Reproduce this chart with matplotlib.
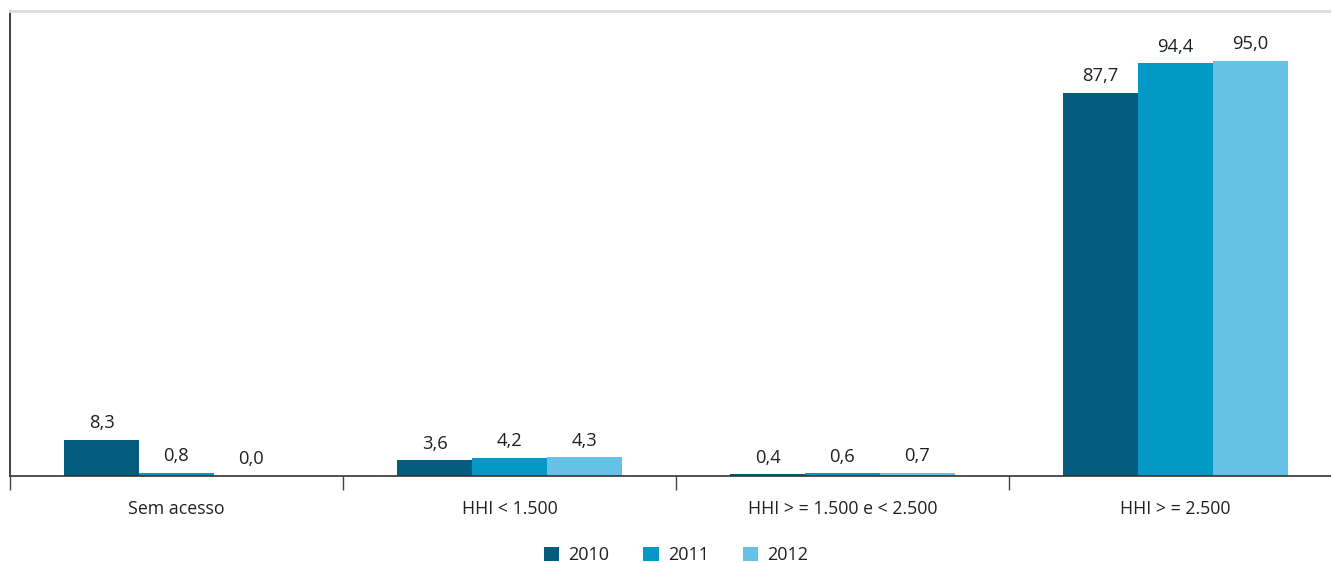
import matplotlib
matplotlib.use("Agg")
import matplotlib.pyplot as plt
import numpy as np
from matplotlib.patches import Patch

categories = ["Sem acesso", "HHI < 1.500", "HHI > = 1.500 e < 2.500", "HHI > = 2.500"]
years = ["2010", "2011", "2012"]
values_2010 = [8.3, 3.6, 0.4, 87.7]
values_2011 = [0.8, 4.2, 0.6, 94.4]
values_2012 = [0.0, 4.3, 0.7, 95.0]

colors = ["#035b7e", "#0398c5", "#66c1e6"]
text_color = "#231f20"

plt.rcParams["font.family"] = ["Open Sans", "DejaVu Sans"]

fig = plt.figure(figsize=(13.31, 5.63), dpi=100)
ax = fig.add_axes([10 / 1331, 87 / 563, 1332 / 1331, 465 / 563])

x = np.arange(len(categories))
width = 0.225
series = [values_2010, values_2011, values_2012]
for i, (vals, col) in enumerate(zip(series, colors)):
    pos = x + (i - 1) * width
    bars = ax.bar(pos, vals, width=width, color=col, linewidth=0)
    for b, v in zip(bars, vals):
        ax.annotate(f"{v:.1f}".replace(".", ","),
                    (b.get_x() + b.get_width() / 2, v),
                    xytext=(0, 5.5), textcoords="offset points",
                    ha="center", va="bottom", fontsize=13.2, color=text_color)

ax.set_xlim(-0.5, len(categories) - 0.5)
ax.set_ylim(0, 106.4)

ax.set_yticks([])
ax.set_xticks(np.arange(len(categories) + 1) - 0.5)
ax.set_xticklabels([])
ax.set_xticks(x, minor=True)
ax.set_xticklabels(categories, minor=True)
ax.tick_params(axis="x", which="major", length=10, width=1, color="#444444", direction="out")
ax.tick_params(axis="x", which="minor", length=0, pad=17, labelsize=12.8, labelcolor=text_color)

ax.spines["right"].set_visible(False)
ax.spines["top"].set_color("#dcdcdc")
ax.spines["top"].set_linewidth(2)
ax.spines["bottom"].set_color("#333333")
ax.spines["bottom"].set_linewidth(1.2)
ax.spines["left"].set_color("#222222")
ax.spines["left"].set_linewidth(1.2)

handles = [Patch(facecolor=c, edgecolor="none", label=y) for c, y in zip(colors, years)]
fig.legend(handles=handles, loc="center", bbox_to_anchor=(676 / 1331, 7.5 / 563),
           ncol=3, frameon=False, fontsize=13, handlelength=0.85, handleheight=0.85,
           handletextpad=0.5, columnspacing=1.9, labelcolor=text_color)

fig.savefig("out.png", dpi=100)
